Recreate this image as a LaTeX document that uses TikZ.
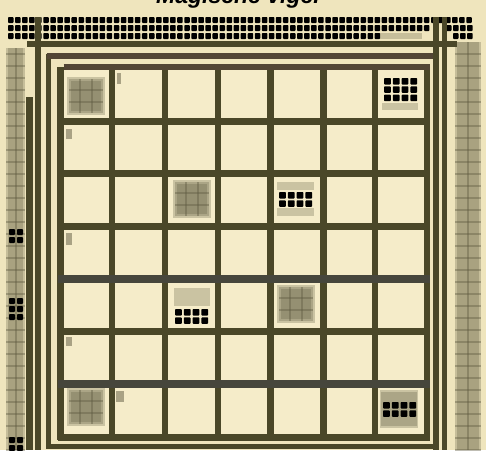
\documentclass[tikz,border=0pt]{standalone}
\usepackage{fontspec}
\setsansfont{Liberation Sans}
\usetikzlibrary{calc}
\definecolor{mvPaper}{HTML}{EFE5BD}
\definecolor{mvCell}{HTML}{F5ECC9}
\definecolor{mvOlive}{HTML}{4A4728}
\definecolor{mvBrown}{HTML}{524535}
\definecolor{mvSlate}{HTML}{46463C}
\definecolor{mvSmudge}{HTML}{5E5A40}

\begin{document}
\begin{tikzpicture}[x=1pt, y=-1pt,
  rail/.style={draw=mvOlive, line width=6pt},
  thinrail/.style={draw=mvOlive, line width=4.5pt},
  topbar/.style={draw=mvBrown, line width=6pt},
  gridline/.style={draw=mvOlive, line width=7pt},
  glyph/.style={fill=black, rounded corners=0.8pt},
  smudge/.style={fill=mvSmudge, opacity=0.28},
  smudgeline/.style={draw=mvSmudge, opacity=0.4, line width=2pt}
]
  \useasboundingbox (0,0) rectangle (486,450);
  \fill[mvPaper] (0,0) rectangle (486,450);

  % Title, cut off at the top edge
  \node[font=\sffamily\bfseries\itshape\fontsize{23}{23}\selectfont, anchor=base, inner sep=0pt] (title) at (238,3) {Magische vigel};

  % Blurred side strips
  \foreach \xa/\xb/\ya in {6/25/48, 455/481/42} {
    \fill[smudge] (\xa,\ya) rectangle (\xb,450);
    \fill[smudge] ({\xa+2},\ya) rectangle ({\xb-2},450);
    \draw[smudgeline] ({(\xa+\xb)/2},\ya) -- ({(\xa+\xb)/2},450);
    \foreach \y in {54,66,...,450}
      \draw[smudgeline, line width=1.5pt] (\xa,\y) -- (\xb,\y);
  }

  % Rows of glyph blobs under the title
  \foreach \i in {0,...,65} \fill[glyph] ({8+7.05*\i},17) rectangle ++(5.5,6);
  \foreach \i in {0,...,59} \fill[glyph] ({8+7.05*\i},25) rectangle ++(5.5,6);
  \foreach \i in {0,...,3}  \fill[glyph] ({446+7.05*\i},25) rectangle ++(5.5,6);
  \foreach \i in {0,...,52} \fill[glyph] ({8+7.05*\i},33) rectangle ++(5.5,6);
  \fill[smudge] (380,33) rectangle (422,39);
  \foreach \i in {0,...,2}  \fill[glyph] ({453+7.05*\i},33) rectangle ++(5.5,6);

  % Glyph blobs along the left strip
  \foreach \yb/\n in {229/1, 298/2, 437/1}
    \foreach \j in {0,...,\n}
      \foreach \i in {0,1}
        \fill[glyph] ({9+8*\i},{\yb+8*\j}) rectangle ++(6,6);

  % Outer frame lines
  \draw[rail] (37.5,17) -- (37.5,450);
  \draw[rail] (27,44) -- (457,44);
  \draw[rail, line width=7pt] (29.5,97) -- (29.5,450);
  \draw[rail] (436,17) -- (436,450);
  \draw[thinrail] (444.5,17) -- (444.5,450);

  % Inner frame
  \draw[thinrail] (48.5,53.5) -- (48.5,446.5) -- (438,446.5);
  \draw[topbar] (46.5,56) -- (433,56);

  % Board: cells and grid
  \fill[mvCell] (60,67) rectangle (427,437);
  \foreach \cx/\cy in {86/96, 192/199, 296/304, 86/407} {
    \foreach \d in {19,17,15}
      \fill[smudge] ({\cx-\d},{\cy-\d}) rectangle ({\cx+\d},{\cy+\d});
    \foreach \o in {-6,6} {
      \draw[smudgeline] ({\cx-17},{\cy+\o}) -- ({\cx+17},{\cy+\o});
      \draw[smudgeline] ({\cx+\o},{\cy-17}) -- ({\cx+\o},{\cy+17});
    }
  }
  \fill[smudge] (382,103) rectangle (418,110);
  \fill[smudge] (277,182) rectangle (314,190);
  \fill[smudge] (277,208) rectangle (314,216);
  \fill[smudge] (174,288) rectangle (210,306);
  \fill[smudge] (380,390) rectangle (418,428);
  \fill[smudge] (381,392) rectangle (417,426);

  % Small blots in the first columns
  \foreach \bx/\by/\bw/\bh in {66/129/6/10, 66/233/6/12, 66/337/6/9, 116/391/8/11, 117/73/4/11}
    \fill[smudge, opacity=0.5] (\bx,\by) rectangle ++(\bw,\bh);

  % Glyph blobs in the cells
  \foreach \gx/\gy/\rows in {384/78/2, 279/192/1, 175/309/1, 383/402/1}
    \foreach \i in {0,...,3}
      \foreach \j in {0,...,\rows}
        \fill[glyph] ({\gx+8.8*\i},{\gy+8.3*\j}) rectangle ++(6.8,6.5);

  \foreach \x in {60.5,112,165,218,270.5,323.5,375,427}
    \draw[gridline, line width=6.5pt] (\x,67) -- (\x,440);
  \foreach \y in {121,173,226,331,437}
    \draw[gridline] (57.5,\y) -- (430,\y);
  \foreach \y in {279,384}
    \draw[gridline, draw=mvSlate, line width=8pt] (57.5,\y) -- (430,\y);
  \draw[topbar] (63.5,67) -- (430,67);
\end{tikzpicture}
\end{document}
